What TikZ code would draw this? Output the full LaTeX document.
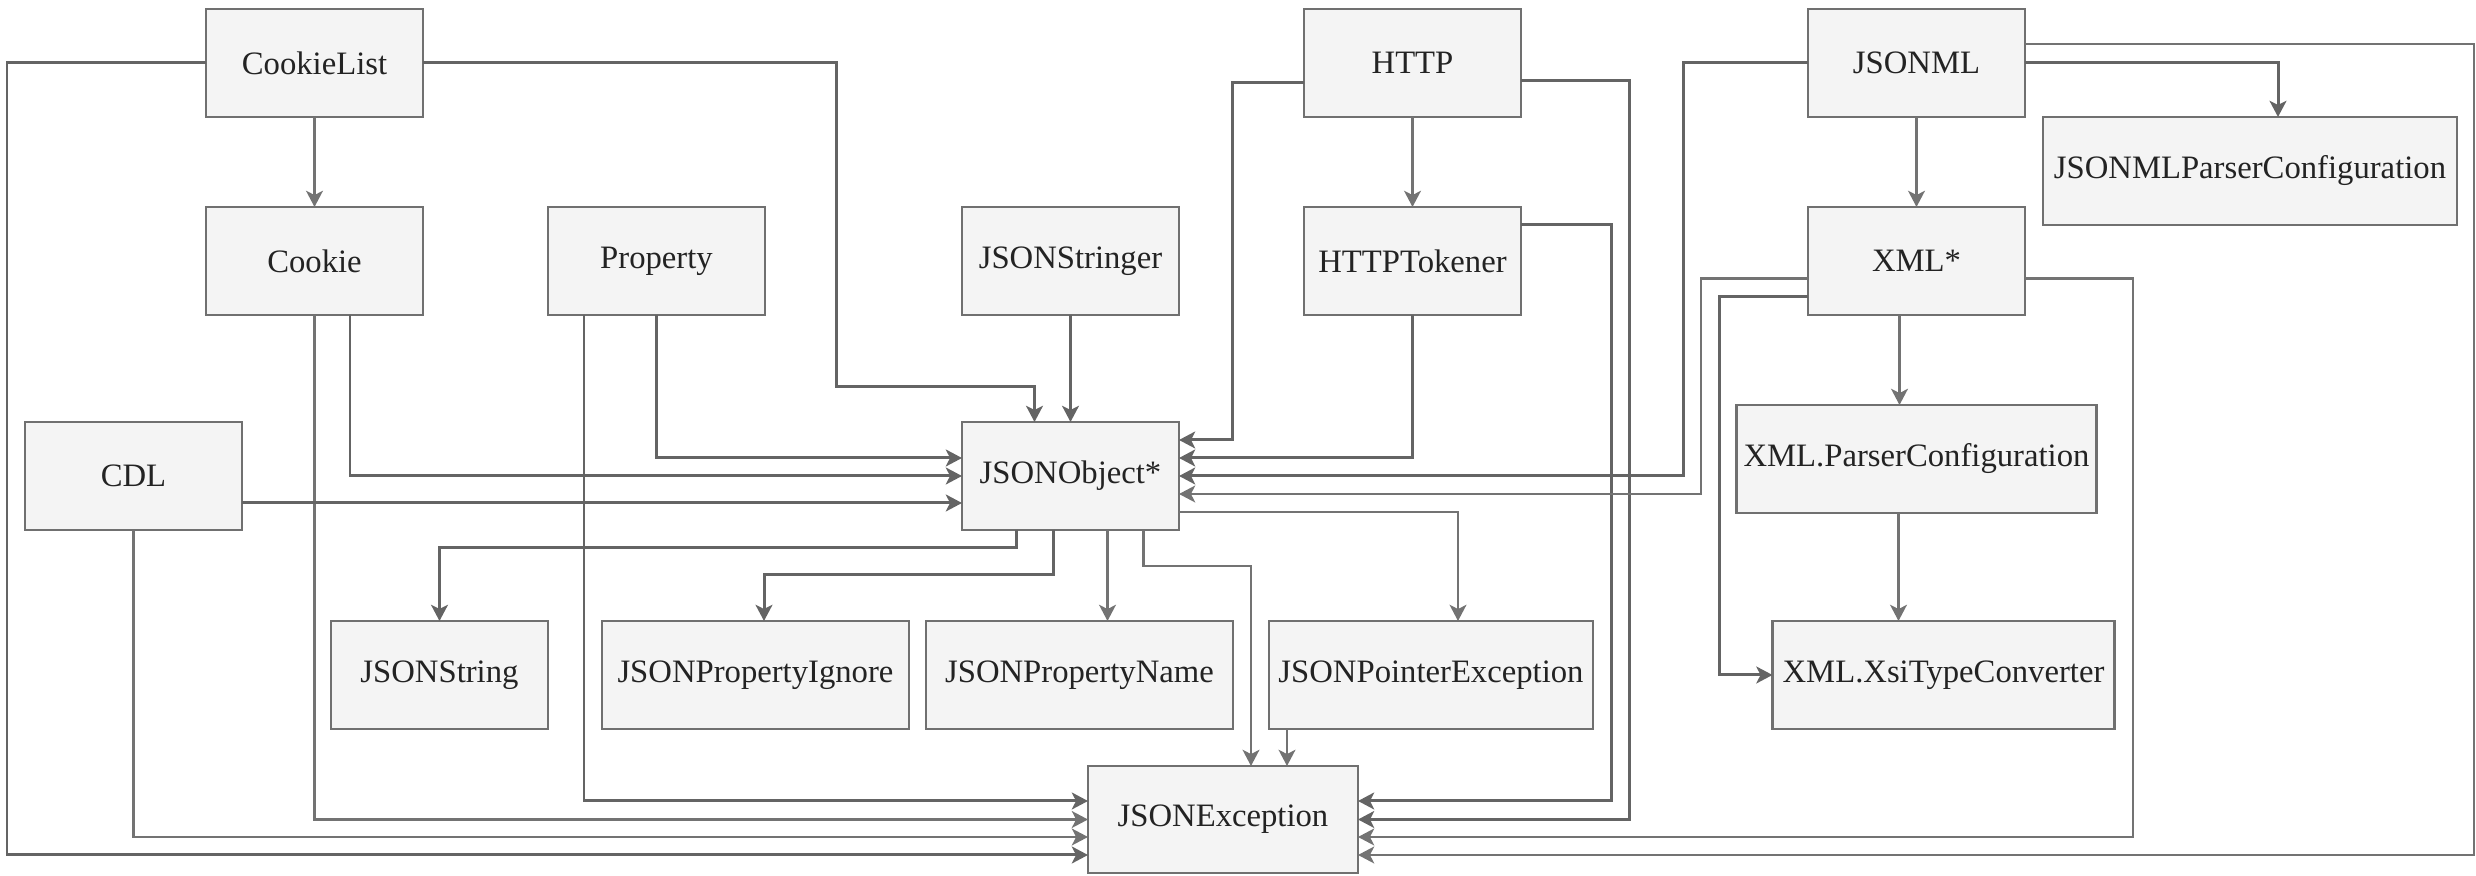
\documentclass[tikz,border=0pt]{standalone}
\usepackage{fontspec}
\setmainfont{Liberation Serif}
\usetikzlibrary{arrows.meta,positioning}
\definecolor{boxfill}{RGB}{244,244,244}
\definecolor{boxline}{RGB}{112,112,112}
\definecolor{linkgray}{RGB}{100,100,100}
\definecolor{thingray}{RGB}{115,115,115}
\definecolor{textgray}{RGB}{35,35,35}
\tikzset{
  >={Stealth[length=4.6pt, width=4.8pt, inset=1.2pt]},
  line/.style      = {->, draw=linkgray, line width=0.85pt},
  thinline/.style  = {->, draw=thingray, line width=0.58pt},
  block/.style     = {rectangle, draw=boxline, line width=0.6pt, fill=boxfill, text=textgray, outer sep=0pt, inner sep=2pt,
                      minimum width=2.17cm, minimum height=1.08cm, font=\fontsize{9.3}{11}\selectfont},
  wideblock/.style = {block, minimum width=3.07cm}
}
\begin{document}
\begin{tikzpicture}
\useasboundingbox (0,0) rectangle (24.76,-8.76);


% Top row
\node[block] (cookielist) at (3.145,-0.63) {CookieList};

\node[block] (http) at (14.125,-0.63) {HTTP};

\node[block] (jsonml) at (19.165,-0.63) {JSONML};

\node[block, minimum width=4.14cm, below right=0cm and 0.18cm of jsonml] (mlconf) {JSONMLParserConfiguration};


% Second row
\node[block, below=0.9cm of cookielist] (cookie) {Cookie};

\node[block, right=1.25cm of cookie] (property) {Property};

\node[block, right=1.97cm of property] (stringer) {JSONStringer};

\node[block, below=0.9cm of http] (tokener) {HTTPTokener};

\node[block, below=0.9cm of jsonml] (xml) {XML*};


% Middle row
\node[block, below=1.07cm of stringer] (jsonobject) {JSONObject*};

\node[block, left=7.2cm of jsonobject] (cdl) {CDL};

\node[block, minimum width=3.6cm, below=0.9cm of xml] (xmlconf) {XML.ParserConfiguration};


% Bottom rows
\node[block] (jsonstring) at (4.395,-6.75) {JSONString};

\node[wideblock, right=0.54cm of jsonstring] (propignore) {JSONPropertyIgnore};

\node[wideblock, right=0.17cm of propignore] (propname) {JSONPropertyName};

\node[block, minimum width=3.24cm, right=0.36cm of propname] (pointerexc) {JSONPointerException};

\node[block, minimum width=3.42cm, below=1.08cm of xmlconf, xshift=2.7mm] (xsi) {XML.XsiTypeConverter};

\node[block, minimum width=2.7cm, minimum height=1.07cm] (jsonexc) at (12.23,-8.195) {JSONException};


% Connections
\draw[thinline] (cookielist) -- (cookie);
\draw[line] (cookielist.west) -- ++(-1.99,0) |- ([yshift=-3.55mm]jsonexc.west);
\draw[line] (cookielist.east) -- ++(4.13,0) -- ++(0,-3.24) -| ([xshift=-3.6mm]jsonobject.north);

\draw[thinline] (cookie.south) |- (jsonexc.west);
\draw[line] ([xshift=3.55mm]cookie.south) |- (jsonobject.west);
\draw[line] ([xshift=-7.25mm]property.south) |- ([yshift=1.85mm]jsonexc.west);
\draw[line] (property.south) |- ([yshift=1.8mm]jsonobject.west);
\draw[line] ([yshift=-2.7mm]cdl.east) -- ([yshift=-2.7mm]jsonobject.west);
\draw[thinline] (cdl.south) |- ([yshift=-1.75mm]jsonexc.west);
\draw[line] (stringer) -- (jsonobject);

\draw[line] ([yshift=-2mm]http.west) -- ++(-0.72,0) |- ([yshift=3.6mm]jsonobject.east);
\draw[thinline] (http) -- (tokener);
\draw[line] ([yshift=-1.8mm]http.east) -- ++(1.08,0) |- (jsonexc.east);
\draw[line] (tokener.south) |- ([yshift=1.8mm]jsonobject.east);
\draw[line] ([yshift=3.65mm]tokener.east) -- ++(0.9,0) |- ([yshift=1.85mm]jsonexc.east);

\draw[thinline] (jsonml) -- (xml);
\draw[line] (jsonml.east) -| ([xshift=2.8mm]mlconf.north);
\draw[thinline] ([yshift=1.9mm]jsonml.east) -- ++(4.49,0) |- ([yshift=-3.55mm]jsonexc.east);
\draw[line] (jsonml.west) -- ++(-1.25,0) |- (jsonobject.east);

\draw[thinline] ([yshift=-1.75mm]xml.west) -- ++(-1.07,0) |- ([yshift=-1.8mm]jsonobject.east);
\draw[line] ([yshift=-3.55mm]xml.west) -- ++(-0.89,0) |- (xsi.west);
\draw[thinline] ([xshift=-1.7mm]xml.south) -- ([xshift=-1.7mm]xml.south |- xmlconf.north);
\draw[thinline] ([yshift=-1.75mm]xml.east) -- ++(1.08,0) |- ([yshift=-1.75mm]jsonexc.east);
\draw[thinline] ([xshift=-1.8mm]xmlconf.south) -- ([xshift=-1.8mm]xmlconf.south |- xsi.north);

\draw[line] ([xshift=-5.4mm]jsonobject.south) -- ++(0,-0.18) -| (jsonstring.north);
\draw[line] ([xshift=-1.7mm]jsonobject.south) -- ++(0,-0.45) -| ([xshift=0.85mm]propignore.north);
\draw[thinline] ([xshift=3.7mm]jsonobject.south) -- ([xshift=3.7mm]jsonobject.south |- propname.north);
\draw[thinline] ([xshift=7.3mm]jsonobject.south) -- ++(0,-0.36) -| ([xshift=2.8mm]jsonexc.north);
\draw[thinline] ([yshift=-3.6mm]jsonobject.east) -| ([xshift=2.7mm]pointerexc.north);
\draw[thinline] ([xshift=-1.44cm]pointerexc.south) -- ([xshift=-1.44cm]pointerexc.south |- jsonexc.north);


\end{tikzpicture}
\end{document}
